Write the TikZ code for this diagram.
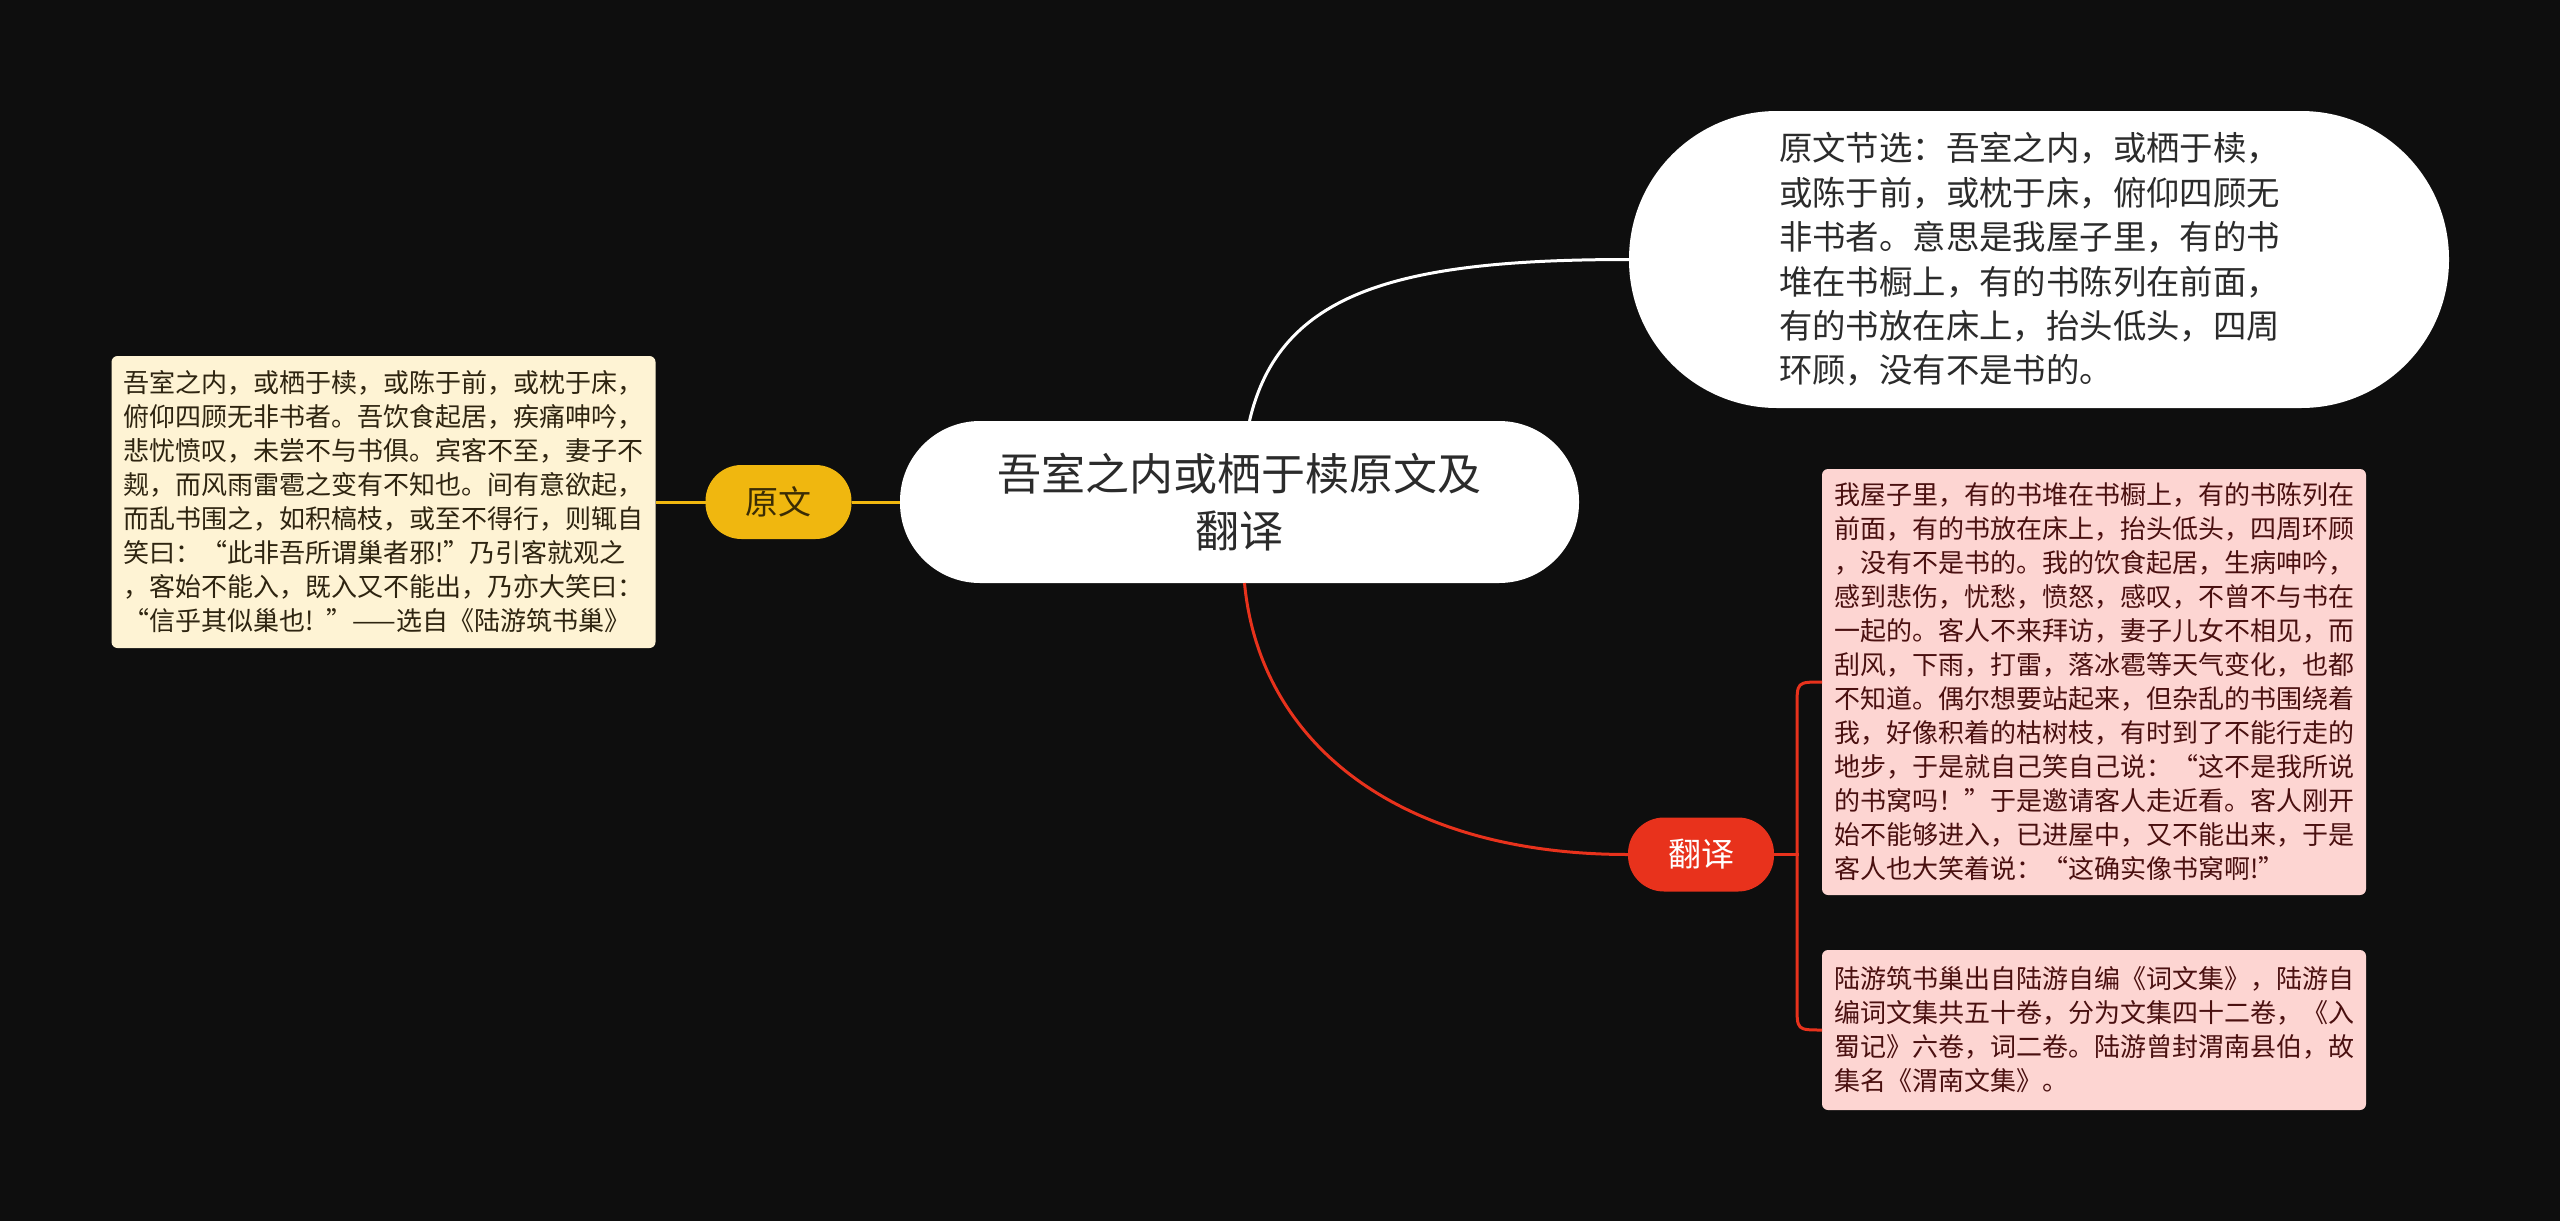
\documentclass[tikz,border=0pt]{standalone}
\usepackage{fontspec}
\setmainfont{Noto Sans CJK SC}
\usetikzlibrary{calc}

\begin{document}
\begin{tikzpicture}[x=0.5pt,y=-0.5pt,
    every node/.style={inner sep=0pt,outer sep=0pt},
    root/.style={fill=white,text=rootText,rounded corners=40pt,minimum width=339.5pt,minimum height=81pt,align=center,font=\fontsize{22pt}{28.5pt}\selectfont},
    bubble/.style={fill=white,text=rootText,rounded corners=74pt,minimum width=410pt,minimum height=148.5pt,text width=260pt,align=left,font=\fontsize{16.7pt}{22.2pt}\selectfont},
    tag/.style={rounded corners=18pt,minimum width=73pt,minimum height=37pt,font=\fontsize{16.5pt}{20pt}\selectfont},
    note/.style={rounded corners=3pt,text width=260pt,inner xsep=6pt,minimum height=#1,align=left,font=\fontsize{13pt}{17pt}\selectfont},
    yline/.style={draw=ywFill,line width=1.5pt},
    wline/.style={draw=white,line width=1.5pt},
    rline/.style={draw=fyFill,line width=1.5pt}]

    \definecolor{bg}{HTML}{0E0E0E}
    \definecolor{rootText}{HTML}{2B2B2B}
    \definecolor{ywFill}{HTML}{F0B70F}
    \definecolor{ywText}{HTML}{3A2C05}
    \definecolor{ywNote}{HTML}{FEF3D4}
    \definecolor{ywNoteText}{HTML}{2E2410}
    \definecolor{fyFill}{HTML}{E8321C}
    \definecolor{fyNote}{HTML}{FDD5D2}
    \definecolor{fyNoteText}{HTML}{4A1010}

    \useasboundingbox (0,0) rectangle (2560,1221);
    \fill[bg] (0,0) rectangle (2560,1221);

    \node[root] (root) at (1239.5,502) {吾室之内或栖于椟原文及\\翻译};

    \node[tag,fill=ywFill,text=ywText] (yw) at (778.5,502) {原文};
    \node[note=146pt,fill=ywNote,text=ywNoteText] (ywbox) at (383.5,502) {%
      吾室之内，或栖于椟，或陈于前，或枕于床，\\
      俯仰四顾无非书者。吾饮食起居，疾痛呻吟，\\
      悲忧愤叹，未尝不与书俱。宾客不至，妻子不\\
      觌，而风雨雷雹之变有不知也。间有意欲起，\\
      而乱书围之，如积槁枝，或至不得行，则辄自\\
      笑曰：“此非吾所谓巢者邪!”乃引客就观之\\
      ，客始不能入，既入又不能出，乃亦大笑曰：\\
      “信乎其似巢也! ”——选自《陆游筑书巢》};

    \node[bubble] (jx) at (2039,259.5) {%
      原文节选：吾室之内，或栖于椟，\\
      或陈于前，或枕于床，俯仰四顾无\\
      非书者。意思是我屋子里，有的书\\
      堆在书橱上，有的书陈列在前面，\\
      有的书放在床上，抬头低头，四周\\
      环顾，没有不是书的。};

    \node[tag,fill=fyFill,text=white] (fy) at (1701,854.5) {翻译};
    \node[note=213pt,fill=fyNote,text=fyNoteText] (fybox1) at (2094,682) {%
      我屋子里，有的书堆在书橱上，有的书陈列在\\
      前面，有的书放在床上，抬头低头，四周环顾\\
      ，没有不是书的。我的饮食起居，生病呻吟，\\
      感到悲伤，忧愁，愤怒，感叹，不曾不与书在\\
      一起的。客人不来拜访，妻子儿女不相见，而\\
      刮风，下雨，打雷，落冰雹等天气变化，也都\\
      不知道。偶尔想要站起来，但杂乱的书围绕着\\
      我，好像积着的枯树枝，有时到了不能行走的\\
      地步，于是就自己笑自己说：“这不是我所说\\
      的书窝吗！”于是邀请客人走近看。客人刚开\\
      始不能够进入，已进屋中，又不能出来，于是\\
      客人也大笑着说：“这确实像书窝啊!”};
    \node[note=80pt,fill=fyNote,text=fyNoteText] (fybox2) at (2094,1030) {%
      陆游筑书巢出自陆游自编《词文集》，陆游自\\
      编词文集共五十卷，分为文集四十二卷，《入\\
      蜀记》六卷，词二卷。陆游曾封渭南县伯，故\\
      集名《渭南文集》。};

    \draw[yline] (root.west) -- (yw.east);
    \draw[yline] (yw.west) -- (ywbox.east);
    \draw[wline] ($(root.north)+(10,0)$) .. controls +(30,-130) and +(-230,0) .. (jx.west);
    \draw[rline] ($(root.south)+(5,0)$) .. controls +(15,160) and +(-230,0) .. (fy.west);
    \draw[rline] (fy.east) -- ++(25,0);
    \draw[rline] (fybox1.west) .. controls ($(fybox1.west)+(-25,0)$) .. ($(fybox1.west)+(-25,25)$)
      -- ($(fybox2.west)+(-25,-25)$) .. controls ($(fybox2.west)+(-25,0)$) .. (fybox2.west);
\end{tikzpicture}
\end{document}
